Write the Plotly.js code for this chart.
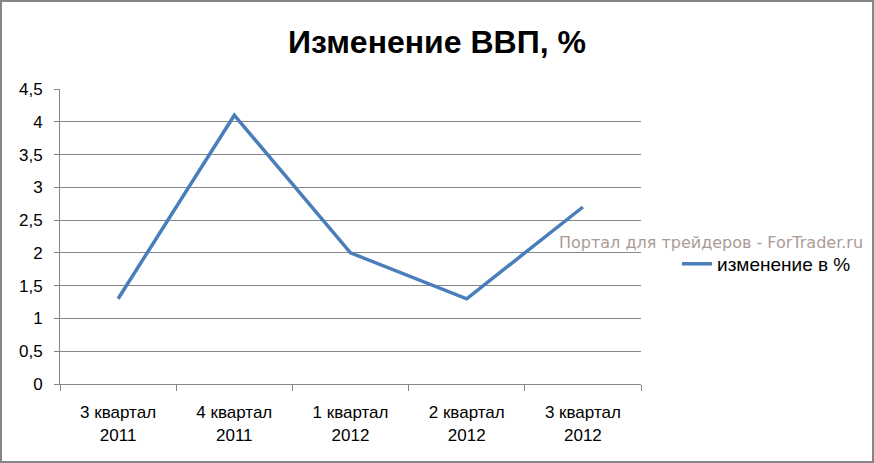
<!DOCTYPE html>
<html><head><meta charset="utf-8">
<script src="https://cdn.plot.ly/plotly-3.0.1.min.js"></script>
<style>
html,body{margin:0;padding:0;background:#fff;}
#wrap{position:relative;width:874px;height:463px;}
#chart{width:874px;height:463px;}
#frame{position:absolute;left:0;top:0;width:874px;height:463px;box-sizing:border-box;border:2px solid #868686;pointer-events:none;}
</style></head>
<body>
<div id="wrap"><div id="chart"></div><div id="frame"></div></div>
<script>
const categories = ["3 квартал<br>2011", "4 квартал<br>2011", "1 квартал<br>2012", "2 квартал<br>2012", "3 квартал<br>2012"];
const values = [1.3, 4.1, 2.0, 1.3, 2.7];
const seriesName = "изменение в %";
const titleText = "Изменение ВВП, %";
const watermark = "Портал для трейдеров - ForTrader.ru";

const labelFont = {family: "Liberation Sans, sans-serif", size: 17, color: "#000"};

Plotly.newPlot("chart", [{
  type: "scatter", mode: "lines",
  x: categories, y: values, name: seriesName,
  line: {color: "#4a7ebb", width: 3.5},
  showlegend: true
}], {
  width: 874, height: 463,
  margin: {l: 60, r: 233, t: 89, b: 79},
  paper_bgcolor: "#fff", plot_bgcolor: "#fff",
  separators: ", ",
  title: {text: "<b>" + titleText + "</b>", x: 0.5, xref: "container", xanchor: "center", y: 0.91, yref: "container", yanchor: "middle",
          font: {family: "Liberation Sans, sans-serif", size: 32, color: "#000"}},
  xaxis: {type: "category", range: [-0.5, 4.5], showgrid: false, zeroline: false, showline: true, linecolor: "#868686", linewidth: 1,
          ticks: "outside", tickson: "boundaries", ticklen: 6, tickcolor: "#868686", tickfont: labelFont,
          ticklabelstandoff: 13, fixedrange: true},
  yaxis: {range: [0, 4.5], dtick: 0.5, tick0: 0, showgrid: true, gridcolor: "#868686", gridwidth: 1,
          zeroline: false, showline: true, linecolor: "#868686", linewidth: 1,
          ticks: "outside", ticklen: 5, tickcolor: "#868686", tickfont: labelFont, tickformat: ".1~f",
          ticklabelstandoff: 8, fixedrange: true},
  legend: {x: 1.062, xanchor: "left", y: 0.407, yanchor: "middle", bgcolor: "rgba(0,0,0,0)",
           font: {family: "Liberation Sans, sans-serif", size: 19, color: "#000"}},
  annotations: [{text: watermark, xref: "paper", yref: "paper", x: 0.855, y: 0.481, xanchor: "left", yanchor: "middle",
                 showarrow: false, font: {family: "DejaVu Sans, sans-serif", size: 16, color: "#ab9b95"}}],
  showlegend: true
}, {staticPlot: true});
</script>
</body></html>
